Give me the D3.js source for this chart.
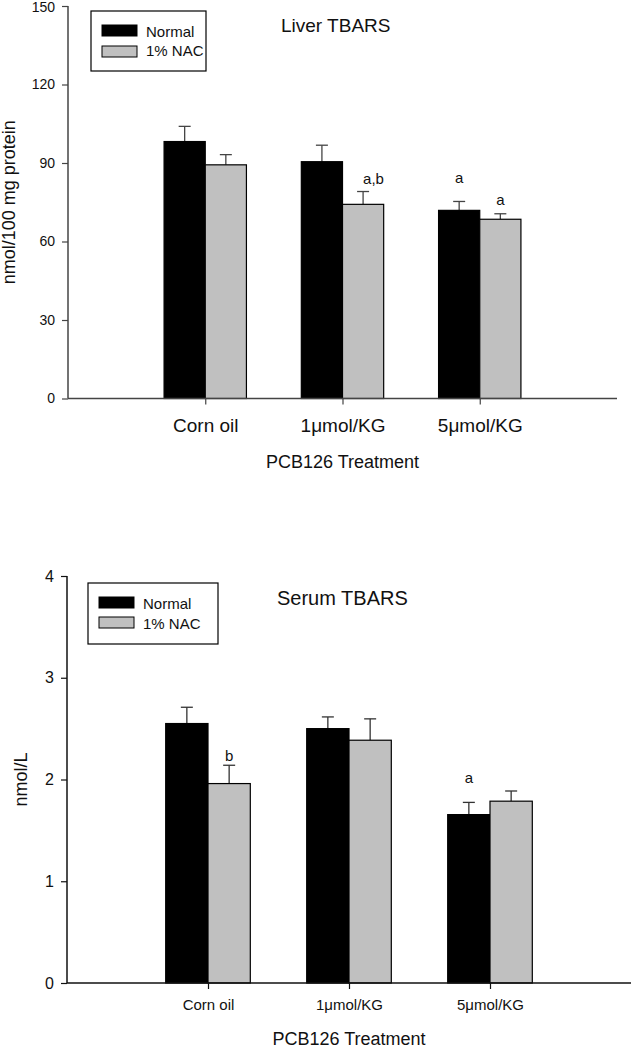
<!DOCTYPE html>
<html><head><meta charset="utf-8">
<script src="https://cdn.jsdelivr.net/npm/d3@7"></script>
<style>
html,body{margin:0;padding:0;background:#fff;}
svg{display:block;font-family:"Liberation Sans",Arial,sans-serif;}
</style></head>
<body>
<svg id="chart" width="632" height="1049"></svg>
<script>
// ---- data ----
const categories = ["Corn oil", "1\u03bcmol/KG", "5\u03bcmol/KG"];
const seriesNames = ["Normal", "1% NAC"];

const liverNormal   = [98.2, 90.5, 71.9];
const liverNormalSE = [5.8, 6.3, 3.4];
const liverNAC      = [89.3, 74.2, 68.5];
const liverNACSE    = [3.9, 4.9, 2.1];
const liverTicks    = [0, 30, 60, 90, 120, 150];
const liverLabels   = [["", ""], ["", "a,b"], ["a", "a"]];
const liverLabelY   = [[0, 0], [0, 81.8], [82.2, 73.8]];

const serumNormal   = [2.55, 2.50, 1.655];
const serumNormalSE = [0.16, 0.115, 0.12];
const serumNAC      = [1.96, 2.386, 1.787];
const serumNACSE    = [0.18, 0.21, 0.10];
const serumTicks    = [0, 1, 2, 3, 4];
const serumLabels   = [["", "b"], ["", ""], ["a", ""]];
const serumLabelY   = [[0, 2.18], [0, 0], [1.97, 0]];

const colors = ["#000000", "#c0c0c0"];
const svg = d3.select("#chart");

function drawChart(o) {
  const g = svg.append("g");
  const x = d3.scalePoint().domain(categories).range([o.x0, o.x1]).padding(1);
  const y = d3.scaleLinear().domain([0, d3.max(o.ticks)]).range([o.y0, o.yTop]);
  const bw = x.step() * 0.3;

  const rows = [];
  categories.forEach((c, i) => {
    [o.normal, o.nac].forEach((arr, s) => {
      const se = s === 0 ? o.normalSE[i] : o.nacSE[i];
      rows.push({c, s, v: arr[i], se, label: o.labels[i][s], ly: o.labelY[i][s]});
    });
  });

  // error bars (upper only)
  const eb = g.append("g").attr("stroke", o.errColor).attr("stroke-width", 1.3);
  rows.forEach(d => {
    const cx = x(d.c) + (d.s === 0 ? -bw / 2 : bw / 2);
    eb.append("line").attr("x1", cx).attr("x2", cx).attr("y1", y(d.v)).attr("y2", y(d.v + d.se));
    eb.append("line").attr("x1", cx - 6).attr("x2", cx + 6).attr("y1", y(d.v + d.se)).attr("y2", y(d.v + d.se));
  });

  // bars
  g.append("g").selectAll("rect").data(rows).join("rect")
    .attr("x", d => x(d.c) + (d.s === 0 ? -bw : 0))
    .attr("y", d => y(d.v))
    .attr("width", bw)
    .attr("height", d => y(0) - y(d.v))
    .attr("fill", d => colors[d.s])
    .attr("stroke", "#000").attr("stroke-width", 1.2);

  // significance labels
  g.append("g").selectAll("text").data(rows.filter(d => d.label)).join("text")
    .attr("x", d => x(d.c) + (d.s === 0 ? -bw / 2 : bw / 2))
    .attr("y", d => y(d.ly))
    .attr("text-anchor", d => d.label.length > 1 ? "start" : "middle")
    .attr("font-size", o.sigFont)
    .attr("fill", "#111")
    .text(d => d.label);

  // y axis
  const ya = g.append("g").attr("transform", `translate(${o.x0},0)`)
    .call(d3.axisLeft(y).tickValues(o.ticks).tickSize(6).tickPadding(7).tickFormat(d3.format("d")));
  ya.select(".domain").attr("stroke", o.axisColor).attr("stroke-width", 1.5).attr("d", `M0,${o.y0}V${o.yTop}`);
  ya.selectAll(".tick line").attr("stroke", o.axisColor).attr("stroke-width", 1.2);
  ya.selectAll(".tick text").attr("font-size", o.tickFont).attr("fill", "#111").attr("font-family", null);
  // keep the topmost tick label inside the picture
  ya.selectAll(".tick text").filter(d => y(d) - o.tickFont * 0.4 < 1)
    .attr("y", d => 1 + o.tickFont * 0.4 - y(d));

  // x axis
  const xa = g.append("g").attr("transform", `translate(0,${o.y0})`)
    .call(d3.axisBottom(x).tickSize(6).tickPadding(o.catPad));
  xa.select(".domain").attr("stroke", o.axisColor).attr("stroke-width", 1.5).attr("d", `M${o.x0},0H${o.x1}`);
  xa.selectAll(".tick line").attr("stroke", o.axisColor).attr("stroke-width", 1.2);
  xa.selectAll(".tick text").attr("font-size", o.catFont).attr("fill", "#111").attr("font-family", null);

  // axis titles
  g.append("text").attr("x", (o.x0 + o.x1) / 2 + o.xTitleDx).attr("y", o.xTitleY)
    .attr("text-anchor", "middle").attr("font-size", 18).attr("fill", "#111").text("PCB126 Treatment");
  g.append("text").attr("transform", `translate(${o.yTitleX},${(o.y0 + o.yTop) / 2}) rotate(-90)`)
    .attr("text-anchor", "middle").attr("font-size", 18).attr("fill", "#111").text(o.yTitle);

  // chart title
  g.append("text").attr("x", o.titleX).attr("y", o.titleY).attr("font-size", o.titleFont)
    .attr("fill", "#111").text(o.title);

  // legend
  const L = o.legend;
  g.append("rect").attr("x", L.x).attr("y", L.y).attr("width", L.w).attr("height", L.h)
    .attr("fill", "#fff").attr("stroke", "#000").attr("stroke-width", 1.2);
  seriesNames.forEach((name, i) => {
    g.append("rect").attr("x", L.x + 11).attr("y", L.y + L.sy[i]).attr("width", 35).attr("height", 11)
      .attr("fill", colors[i]).attr("stroke", "#000").attr("stroke-width", 1);
    g.append("text").attr("x", L.x + 55).attr("y", L.y + L.ty[i]).attr("font-size", 15)
      .attr("fill", "#111").text(name);
  });
}

drawChart({
  normal: liverNormal, normalSE: liverNormalSE, nac: liverNAC, nacSE: liverNACSE,
  ticks: liverTicks, labels: liverLabels, labelY: liverLabelY,
  x0: 68, x1: 617, y0: 398.5, yTop: 6,
  axisColor: "#444", errColor: "#444",
  tickFont: 14, catFont: 19, catPad: 14, sigFont: 15,
  xTitleY: 468, xTitleDx: 0,
  yTitle: "nmol/100 mg protein", yTitleX: 15,
  title: "Liver TBARS", titleX: 281, titleY: 32, titleFont: 19,
  legend: {x: 91, y: 11, w: 115, h: 60, sy: [14, 35], ty: [26, 45]}
});

drawChart({
  normal: serumNormal, normalSE: serumNormalSE, nac: serumNAC, nacSE: serumNACSE,
  ticks: serumTicks, labels: serumLabels, labelY: serumLabelY,
  x0: 67, x1: 631, y0: 983, yTop: 576,
  axisColor: "#111", errColor: "#333",
  tickFont: 16, catFont: 15, catPad: 10, sigFont: 15,
  xTitleY: 1045, xTitleDx: 0,
  yTitle: "nmol/L", yTitleX: 27,
  title: "Serum TBARS", titleX: 277, titleY: 605, titleFont: 20,
  legend: {x: 88, y: 583, w: 130, h: 61, sy: [14, 34], ty: [26, 46]}
});
</script>
</body></html>
